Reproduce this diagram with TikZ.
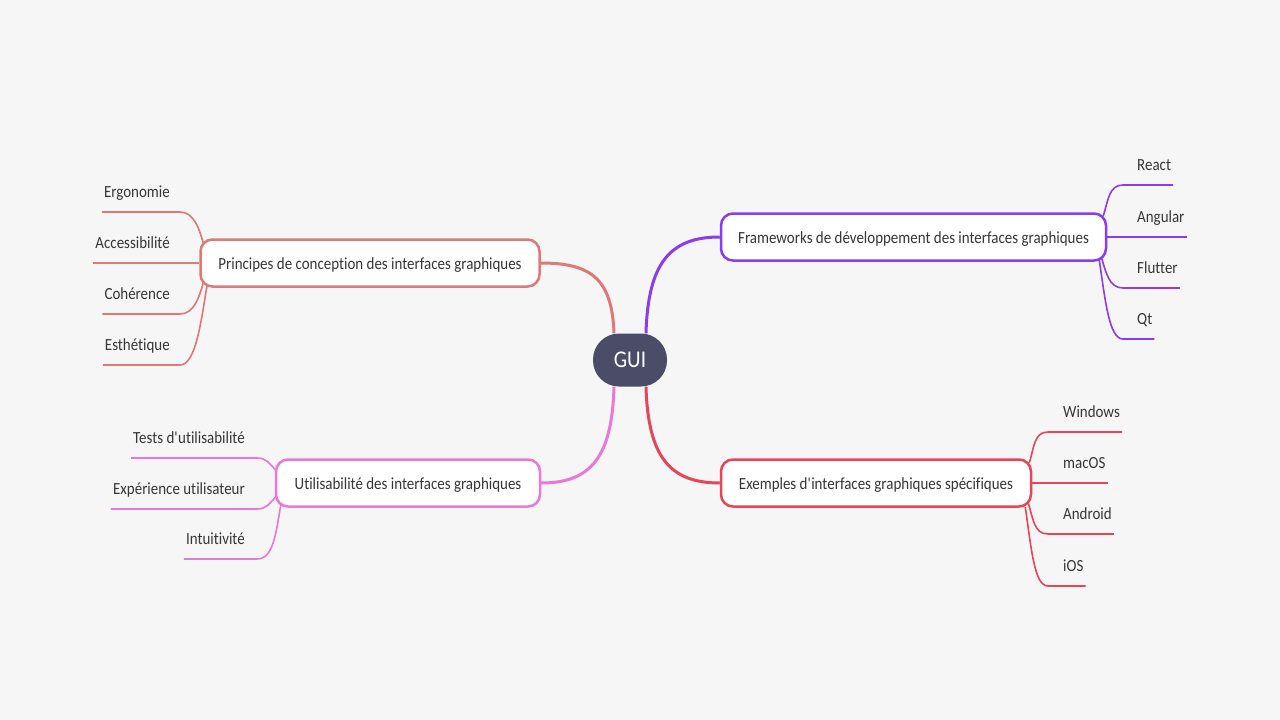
\documentclass[tikz,border=0pt]{standalone}
\usepackage{fontspec}
\setmainfont[FakeStretch=0.88, Ligatures={NoCommon}]{Carlito}
\usetikzlibrary{calc}

\definecolor{bgcol}{HTML}{F6F6F6}
\definecolor{txtcol}{HTML}{363636}
\definecolor{guicol}{HTML}{4A4C68}
\definecolor{cPri}{HTML}{E07878}
\definecolor{cFra}{HTML}{8A3DF0}
\definecolor{cUti}{HTML}{EA78D8}
\definecolor{cExe}{HTML}{E8445A}

\tikzset{
  topic/.style={draw, line width=2.5pt, fill=white, rounded corners=12pt,
    minimum height=47pt, inner sep=0pt, text height=14pt, text depth=2pt,
    text=txtcol, font=\fontsize{17}{20}\selectfont},
  leaf/.style={inner xsep=2pt, inner ysep=10pt, text height=12pt, text depth=4pt,
    text=txtcol, font=\fontsize{17}{20}\selectfont},
  branch/.style={line width=3pt},
  twig/.style={line width=1.6pt},
}

\begin{document}
\begin{tikzpicture}[x=1pt, y=-1pt]

\useasboundingbox (0,0) rectangle (1280,720);
\fill[bgcol] (0,0) rectangle (1280,720);

% centre
\node[fill=guicol, rounded corners=26pt, minimum width=74pt, minimum height=53pt,
  inner sep=0pt, text=white, font=\fontsize{24}{28}\selectfont] (gui) at (630,360) {GUI};

% topics
\node[topic, draw=cPri, minimum width=339pt] (princ) at (370,263) {Principes de conception des interfaces graphiques};
\node[topic, draw=cFra, minimum width=385pt] (frame) at (913.5,237) {Frameworks de développement des interfaces graphiques};
\node[topic, draw=cUti, minimum width=264pt] (util) at (408,483) {Utilisabilité des interfaces graphiques};
\node[topic, draw=cExe, minimum width=310pt] (exem) at (876,483) {Exemples d\textquotesingle interfaces graphiques spécifiques};

% leaves
\node[leaf, anchor=south east] (ergo) at (172,212) {Ergonomie};
\node[leaf, anchor=south east] (acc)  at (172,263) {Accessibilité};
\node[leaf, anchor=south east] (coh)  at (172,314) {Cohérence};
\node[leaf, anchor=south east] (esth) at (172,365) {Esthétique};

\node[leaf, anchor=south west] (react) at (1135,185) {React};
\node[leaf, anchor=south west] (ang)   at (1135,237) {Angular};
\node[leaf, anchor=south west] (flut)  at (1135,288) {Flutter};
\node[leaf, anchor=south west] (qt)    at (1135,339) {Qt};

\node[leaf, anchor=south east] (tests) at (247,458) {Tests d\textquotesingle utilisabilité};
\node[leaf, anchor=south east] (exper) at (247,509) {Expérience utilisateur};
\node[leaf, anchor=south east] (intu)  at (247,559) {Intuitivité};

\node[leaf, anchor=south west] (win)  at (1061,432) {Windows};
\node[leaf, anchor=south west] (mac)  at (1061,483) {macOS};
\node[leaf, anchor=south west] (andr) at (1061,534) {Android};
\node[leaf, anchor=south west] (ios)  at (1061,586) {iOS};

% branches
\draw[branch, cPri] ($(gui.north)+(-16,0)$) .. controls +(-2,-55) and +(50,0) .. (princ.east);
\draw[branch, cFra] ($(gui.north)+(16,0)$) .. controls +(2,-70) and +(-50,0) .. (frame.west);
\draw[branch, cUti] ($(gui.south)+(-16,0)$) .. controls +(-2,70) and +(50,0) .. (util.east);
\draw[branch, cExe] ($(gui.south)+(16,0)$) .. controls +(2,70) and +(-50,0) .. (exem.west);

% twigs
\draw[twig, cPri] (ergo.south west) -- ($(ergo.south east)+(8,0)$) .. controls +(14,0) and +(-4,-14) .. ($(princ.west)+(4,-20)$);
\draw[twig, cPri] (acc.south west) -- (princ.west);
\draw[twig, cPri] (coh.south west) -- ($(coh.south east)+(8,0)$) .. controls +(14,0) and +(-4,14) .. ($(princ.west)+(4,20)$);
\draw[twig, cPri] (esth.south west) -- ($(esth.south east)+(8,0)$) .. controls +(16,0) and +(-6,36) .. ($(princ.west)+(8,21)$);

\draw[twig, cFra] ($(frame.east)+(-4,-21)$) .. controls +(5,-16) and +(-14,0) .. ($(react.south west)+(-12,0)$) -- (react.south east);
\draw[twig, cFra] (frame.east) -- (ang.south east);
\draw[twig, cFra] ($(frame.east)+(-6,20)$) .. controls +(5,16) and +(-14,0) .. ($(flut.south west)+(-12,0)$) -- (flut.south east);
\draw[twig, cFra] ($(frame.east)+(-8,23)$) .. controls +(6,40) and +(-14,0) .. ($(qt.south west)+(-12,0)$) -- (qt.south east);

\draw[twig, cUti] (tests.south west) -- ($(tests.south east)+(10,0)$) .. controls +(10,0) and +(-6,-6) .. ($(util.west)+(1,-13)$);
\draw[twig, cUti] (exper.south west) -- ($(exper.south east)+(10,0)$) .. controls +(10,0) and +(-6,6) .. ($(util.west)+(1,14)$);
\draw[twig, cUti] (intu.south west) -- ($(intu.south east)+(10,0)$) .. controls +(16,0) and +(-5,30) .. ($(util.west)+(6,22)$);

\draw[twig, cExe] ($(exem.east)+(-3,-20)$) .. controls +(5,-16) and +(-14,0) .. ($(win.south west)+(-13,0)$) -- (win.south east);
\draw[twig, cExe] (exem.east) -- (mac.south east);
\draw[twig, cExe] ($(exem.east)+(-4,20)$) .. controls +(5,16) and +(-14,0) .. ($(andr.south west)+(-13,0)$) -- (andr.south east);
\draw[twig, cExe] ($(exem.east)+(-7,24)$) .. controls +(6,40) and +(-14,0) .. ($(ios.south west)+(-13,0)$) -- (ios.south east);

\end{tikzpicture}
\end{document}
